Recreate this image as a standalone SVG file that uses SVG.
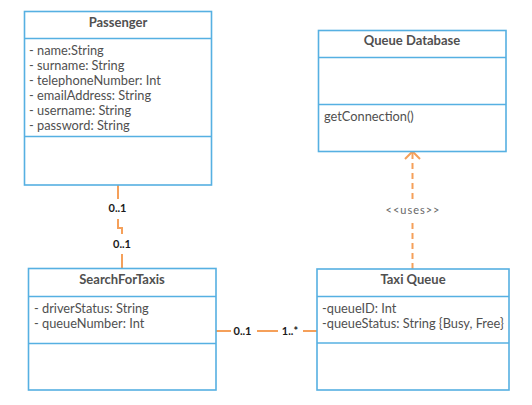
<svg xmlns="http://www.w3.org/2000/svg" width="532" height="405" viewBox="0 0 532 405">
<style>
.box{fill:#fff;stroke:#56B0E2;stroke-width:1.6}
.div{stroke:#56B0E2;stroke-width:1.6}
.title{font-family:Lato,"Liberation Sans",sans-serif;font-size:13px;font-weight:bold;fill:#505050;text-anchor:middle}
.attr{font-family:Lato,"Liberation Sans",sans-serif;font-size:12.8px;fill:#505050}
.conn{fill:none;stroke:#F5A05A;stroke-width:2}
.mult{font-family:Lato,"Liberation Sans",sans-serif;font-size:11px;font-weight:bold;fill:#1a1a1a;text-anchor:middle}
.bg{fill:#fff}
.uses{font-family:Lato,"Liberation Sans",sans-serif;font-size:11px;fill:#666;text-anchor:middle;letter-spacing:1px}
</style>
<rect width="532" height="405" fill="#fff"/>
<g id="connectors">
<path class="conn" d="M118 185 V228 H122 V269"/>
<rect class="bg" x="104" y="199" width="28" height="20"/>
<rect class="bg" x="108" y="234" width="28" height="20"/>
<text class="mult" x="117.5" y="212">0..1</text>
<text class="mult" x="122" y="248">0..1</text>
<path class="conn" d="M216 331 H317"/>
<rect class="bg" x="231" y="323" width="26" height="16"/>
<rect class="bg" x="278" y="323" width="25" height="16"/>
<text class="mult" x="242.5" y="335">0..1</text>
<text class="mult" x="290" y="335">1..*</text>
<path class="conn" d="M412.5 269 V153" stroke-dasharray="6 4"/>
<path class="conn" d="M405 159 L412.5 151.5 L420 159"/>
<rect class="bg" x="384" y="201" width="58" height="18"/>
<text class="uses" x="413" y="214">&lt;&lt;uses&gt;&gt;</text>
</g>
<g id="passenger">
<rect class="box" x="24.5" y="11.5" width="187" height="173.5"/>
<line class="div" x1="24.5" y1="38.5" x2="211.5" y2="38.5"/>
<line class="div" x1="24.5" y1="136.5" x2="211.5" y2="136.5"/>
<text class="title" x="118" y="27">Passenger</text>
<text class="attr" x="29" y="54.5">- name:String</text>
<text class="attr" x="29" y="69.5">- surname: String</text>
<text class="attr" x="29" y="84.5">- telephoneNumber: Int</text>
<text class="attr" x="29" y="99.5">- emailAddress: String</text>
<text class="attr" x="29" y="114.5">- username: String</text>
<text class="attr" x="29" y="129.5">- password: String</text>
</g>
<g id="queue-database">
<rect class="box" x="318.5" y="30.5" width="187.5" height="121"/>
<line class="div" x1="318.5" y1="57.5" x2="506" y2="57.5"/>
<line class="div" x1="318.5" y1="104.5" x2="506" y2="104.5"/>
<text class="title" x="412" y="45">Queue Database</text>
<text class="attr" x="324" y="120.5">getConnection()</text>
</g>
<g id="search-for-taxis">
<rect class="box" x="28.5" y="268.5" width="187.5" height="121.5"/>
<line class="div" x1="28.5" y1="296.5" x2="216" y2="296.5"/>
<line class="div" x1="28.5" y1="343.5" x2="216" y2="343.5"/>
<text class="title" x="122" y="284">SearchForTaxis</text>
<text class="attr" x="34" y="312.5">- driverStatus: String</text>
<text class="attr" x="34" y="327.5">- queueNumber: Int</text>
</g>
<g id="taxi-queue">
<rect class="box" x="317" y="269" width="192" height="121"/>
<line class="div" x1="317" y1="296.5" x2="509" y2="296.5"/>
<line class="div" x1="317" y1="343" x2="509" y2="343"/>
<text class="title" x="413" y="284">Taxi Queue</text>
<text class="attr" x="322" y="312.5">-queueID: Int</text>
<text class="attr" x="322" y="327.5">-queueStatus: String {Busy, Free}</text>
</g>
</svg>
